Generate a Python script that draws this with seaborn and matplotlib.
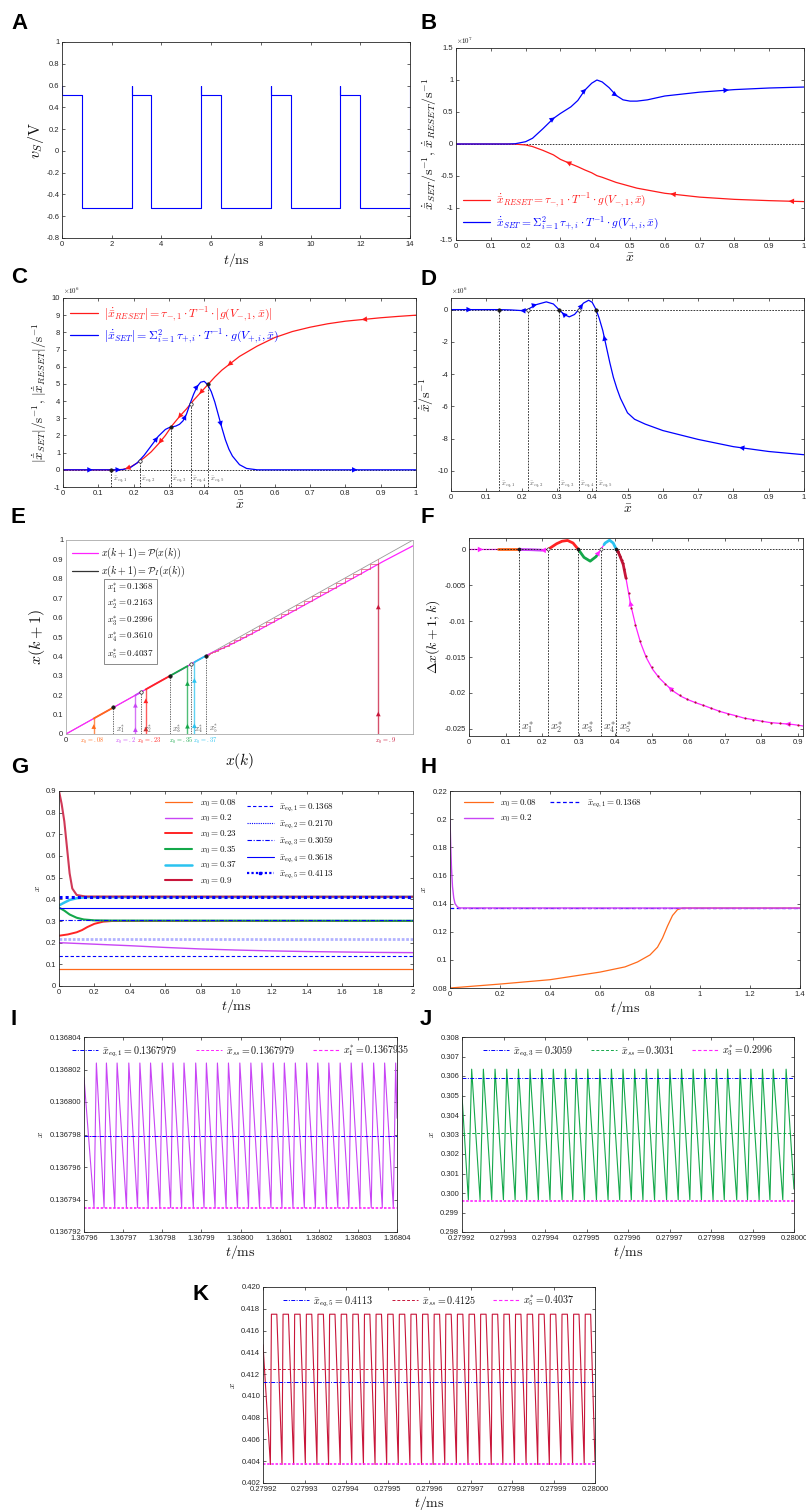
import numpy as np
import matplotlib
matplotlib.use('Agg')
import matplotlib.pyplot as plt
import seaborn as sns
from matplotlib.lines import Line2D
from matplotlib.ticker import FuncFormatter

# ---------------- DATA ----------------
# A: square-wave source voltage
a_rise = [0.0, 2.8, 5.6, 8.4, 11.2, 14.0]
a_fall = [0.8, 3.6, 6.4, 9.2, 12.0]
a_high, a_low, a_spike = 0.51, -0.52, 0.60

# B: SET / RESET rates (x1e7)
b_x = [0, 0.1, 0.15, 0.17, 0.2, 0.22, 0.25, 0.28, 0.3, 0.33, 0.35, 0.37, 0.39, 0.405, 0.42, 0.44,
       0.46, 0.48, 0.5, 0.52, 0.55, 0.6, 0.7, 0.8, 0.9, 1.0]
b_set = [0, 0, 0, 0.004, 0.036, 0.09, 0.24, 0.40, 0.477, 0.58, 0.68, 0.84, 0.95, 1.0, 0.97, 0.88,
         0.76, 0.69, 0.67, 0.67, 0.69, 0.75, 0.81, 0.85, 0.875, 0.89]
b_reset = [0, 0, 0, -0.002, -0.015, -0.04, -0.1, -0.17, -0.24, -0.31, -0.355, -0.405, -0.45,
           -0.495, -0.52, -0.56, -0.6, -0.63, -0.66, -0.69, -0.72, -0.77, -0.83, -0.865, -0.885, -0.9]

# C: absolute rates (x1e6)
c_red_x = [0, 0.1, 0.15, 0.17, 0.19, 0.21, 0.23, 0.25, 0.27, 0.29, 0.31, 0.33, 0.35, 0.37, 0.39,
           0.41, 0.43, 0.45, 0.5, 0.55, 0.6, 0.65, 0.7, 0.75, 0.8, 0.85, 0.9, 0.95, 1.0]
c_red = [0, 0, 0, 0.02, 0.15, 0.4, 0.7, 1.05, 1.5, 2.0, 2.6, 3.1, 3.55, 4.05, 4.5,
         4.95, 5.4, 5.8, 6.6, 7.2, 7.7, 8.05, 8.3, 8.5, 8.65, 8.75, 8.85, 8.93, 9.0]
c_blue_x = [0, 0.1, 0.15, 0.17, 0.19, 0.21, 0.23, 0.25, 0.27, 0.29, 0.30, 0.31, 0.32, 0.33, 0.34,
            0.35, 0.36, 0.37, 0.38, 0.39, 0.40, 0.41, 0.42, 0.43, 0.44, 0.45, 0.46, 0.47, 0.48,
            0.50, 0.52, 0.55, 0.6, 1.0]
c_blue = [0, 0, 0, 0.02, 0.12, 0.4, 0.85, 1.4, 1.95, 2.35, 2.45, 2.5, 2.55, 2.65, 2.85,
          3.25, 3.85, 4.4, 4.85, 5.1, 5.15, 4.95, 4.55, 3.95, 3.2, 2.45, 1.75, 1.2, 0.8,
          0.3, 0.08, 0.0, 0.0, 0.0]

# equilibria
x_eq = [0.1368, 0.2170, 0.3059, 0.3618, 0.4113]
x_eq_stable = [True, False, True, False, True]

# D: net rate (x1e6)
d_x = [0, 0.1, 0.1368, 0.17, 0.2, 0.217, 0.24, 0.27, 0.29, 0.306, 0.32, 0.335, 0.35, 0.362, 0.375,
       0.39, 0.40, 0.411, 0.42, 0.43, 0.44, 0.45, 0.46, 0.47, 0.48, 0.5, 0.52, 0.55, 0.6, 0.7,
       0.8, 0.9, 1.0]
d_y = [0, 0, 0, -0.02, -0.06, 0, 0.3, 0.48, 0.35, 0, -0.3, -0.45, -0.3, 0, 0.4,
       0.58, 0.45, 0, -0.55, -1.3, -2.3, -3.3, -4.2, -4.9, -5.5, -6.4, -6.8, -7.1, -7.5, -8.05,
       -8.5, -8.8, -9.0]

# F: increment map
f_x = [0, 0.1, 0.1368, 0.17, 0.2, 0.2163, 0.24, 0.255, 0.27, 0.285, 0.2996, 0.315, 0.332, 0.348,
       0.361, 0.373, 0.385, 0.395, 0.4037, 0.409, 0.415, 0.4225, 0.43, 0.4425, 0.457, 0.47,
       0.486, 0.503, 0.521, 0.541, 0.561, 0.582, 0.603, 0.623, 0.646, 0.667, 0.689, 0.71,
       0.733, 0.753, 0.776, 0.798, 0.821, 0.842, 0.865, 0.888, 0.915, 1.0]
f_y = [0, 0, 0, -0.00003, -0.0001, 0, 0.0008, 0.00115, 0.00126, 0.0009, 0, -0.0011, -0.00163,
       -0.001, 0, 0.0009, 0.0013, 0.0009, 0, -0.0004, -0.0011, -0.0021, -0.0040, -0.0076,
       -0.0107, -0.0130, -0.0151, -0.0167, -0.0179, -0.0189, -0.0198, -0.0205, -0.0210,
       -0.0214, -0.0218, -0.0222, -0.0226, -0.0229, -0.0232, -0.0235, -0.0237, -0.0239,
       -0.0241, -0.0242, -0.0243, -0.0244, -0.0246, -0.0300]
x_star = [0.1368, 0.2163, 0.2996, 0.3610, 0.4037]
x_star_txt = ['0.1368', '0.2163', '0.2996', '0.3610', '0.4037']
iter_x = [0.9, 0.876, 0.851, 0.827, 0.803, 0.779, 0.755, 0.732, 0.709, 0.686, 0.663, 0.641,
          0.619, 0.598, 0.577, 0.557, 0.537, 0.518, 0.5, 0.484, 0.469, 0.456, 0.445, 0.437,
          0.43, 0.425, 0.421, 0.418, 0.415, 0.413, 0.411, 0.409, 0.408, 0.407, 0.406, 0.405]

# initial conditions and colours
x0_vals = [0.08, 0.2, 0.23, 0.35, 0.37, 0.9]
x0_short = ['.08', '.2', '.23', '.35', '.37', '.9']
x0_long = ['0.08', '0.2', '0.23', '0.35', '0.37', '0.9']
x0_cols = ['#ff6a1a', '#c845f5', '#ff2424', '#14a84a', '#2ac3f0', '#c8163a']
x0_seg_end = [0.1368, 0.2163, 0.2996, 0.2996, 0.4037, 0.4037]

# G: trajectories
g_t = [[0, 2.0],
       [0, 0.2, 0.4, 0.6, 0.8, 1.0, 1.2, 1.4, 1.6, 1.8, 2.0],
       [0, 0.05, 0.1, 0.13, 0.16, 0.2, 0.25, 0.3, 2.0],
       [0, 0.03, 0.06, 0.1, 0.14, 0.2, 0.3, 2.0],
       [0, 0.03, 0.06, 0.1, 0.15, 2.0],
       [0, 0.015, 0.03, 0.045, 0.06, 0.075, 0.1, 0.15, 2.0]]
g_x = [[0.08, 0.08],
       [0.2, 0.193, 0.186, 0.178, 0.171, 0.166, 0.162, 0.159, 0.157, 0.155, 0.154],
       [0.232, 0.238, 0.248, 0.258, 0.272, 0.287, 0.297, 0.3, 0.3],
       [0.362, 0.348, 0.33, 0.315, 0.307, 0.303, 0.302, 0.301],
       [0.372, 0.385, 0.397, 0.405, 0.41, 0.411],
       [0.9, 0.84, 0.76, 0.64, 0.52, 0.45, 0.42, 0.413, 0.412]]
g_eq_txt = ['0.1368', '0.2170', '0.3059', '0.3618', '0.4113']
g_xticklabels = ['0', '0.2', '0.4', '0.6', '0.8', '1.0', '1.2', '1.4', '1.6', '1.8', '2']

# H: zoomed trajectories
h_t_orange = [0, 0.2, 0.4, 0.6, 0.7, 0.75, 0.8, 0.83, 0.85, 0.87, 0.89, 0.91, 0.93, 1.4]
h_x_orange = [0.08, 0.0828, 0.0859, 0.0913, 0.095, 0.0985, 0.1035, 0.109, 0.1155, 0.124,
              0.1315, 0.1357, 0.1368, 0.1368]
h_t_violet = [0, 0.003, 0.006, 0.01, 0.015, 0.02, 0.03, 0.04, 1.4]
h_x_violet = [0.2, 0.18, 0.165, 0.152, 0.144, 0.14, 0.1375, 0.1369, 0.1368]

# I, J, K: steady-state ripple (trough times as offsets in 1e-6 ms)
i_t0 = 1.36796
i_troughs = [2.56, 5.13, 7.86, 10.85, 13.68, 16.41, 19.40, 22.14, 24.96, 27.95, 30.68, 33.50,
             36.32, 39.23, 42.05, 44.87, 47.78, 50.60, 53.42, 56.32, 59.15, 61.97, 64.87, 67.69,
             70.51, 73.42, 76.24, 79.06]
i_lo, i_hi = 0.1367935, 0.1368024
i_eq, i_ss, i_star = 0.1367979, 0.1367979, 0.1367935

j_t0 = 0.27992
j_troughs = [1.53, 4.35, 7.16, 9.98, 12.8, 15.6, 18.4, 21.2, 24.1, 26.7, 29.5, 32.4, 35.2, 38.0,
             40.8, 43.6, 46.4, 49.3, 52.1, 54.9, 57.7, 60.5, 63.2, 66.2, 68.8, 71.6, 74.2, 77.3]
j_lo, j_hi = 0.29965, 0.30635
j_eq, j_ss, j_star = 0.3059, 0.3031, 0.2996

k_t0 = 0.27992
k_troughs = [1.78, 4.58, 7.38, 10.2, 13.0, 15.8, 18.6, 21.4, 24.2, 27.0, 29.8, 32.6, 35.4, 38.2,
             41.0, 43.8, 46.6, 49.4, 52.2, 55.0, 57.8, 60.6, 63.4, 66.2, 69.0, 71.8, 74.6, 77.4]
k_lo, k_hi = 0.4037, 0.4175
k_eq, k_ss, k_star = 0.4113, 0.4125, 0.4037

# ---------------- STYLE ----------------
sns.set_theme(style='ticks')
plt.rcParams.update({
    'font.family': ['Liberation Sans', 'DejaVu Sans'],
    'mathtext.fontset': 'cm',
    'axes.unicode_minus': False,
    'xtick.direction': 'in', 'ytick.direction': 'in',
    'xtick.top': True, 'ytick.right': True,
    'axes.linewidth': 0.6,
    'xtick.major.size': 2.5, 'ytick.major.size': 2.5,
    'xtick.major.width': 0.5, 'ytick.major.width': 0.5,
    'xtick.labelsize': 5.5, 'ytick.labelsize': 5.5,
    'xtick.major.pad': 2, 'ytick.major.pad': 2,
    'axes.edgecolor': '#262626', 'xtick.color': '#262626', 'ytick.color': '#262626',
    'axes.labelcolor': '#111111', 'text.color': '#111111',
    'axes.facecolor': 'white', 'figure.facecolor': 'white',
    'legend.fontsize': 6,
})

W, H = 806, 1511
fig = plt.figure(figsize=(W / 100, H / 100), dpi=100)
BLUE = '#0000ff'
RED = '#ff1a1a'
MAG = '#ff22ff'


def add_ax(l, r, t, b):
    return fig.add_axes([l / W, 1 - b / H, (r - l) / W, (b - t) / H])


def fmt_g(ax, axis='both'):
    f = FuncFormatter(lambda v, p: '%g' % (round(v, 9) + 0.0))
    if axis in ('x', 'both'):
        ax.xaxis.set_major_formatter(f)
    if axis in ('y', 'both'):
        ax.yaxis.set_major_formatter(f)


def line(ax, x, y, **kw):
    sns.lineplot(x=np.asarray(x, float), y=np.asarray(y, float), ax=ax, sort=False,
                 estimator=None, legend=False, **kw)


def arrows(ax, cx, cy, spec, color, ms=7, frac=0.004):
    cx = np.asarray(cx, float)
    cy = np.asarray(cy, float)
    span = cx.max() - cx.min()
    for a, sgn in spec:
        d = sgn * frac * span
        y0 = np.interp(a, cx, cy)
        y1 = np.interp(a + d, cx, cy)
        ax.annotate('', xy=(a + d, y1), xytext=(a, y0),
                    arrowprops=dict(arrowstyle='-|>,head_length=0.55,head_width=0.28',
                                    color=color, lw=0.01, shrinkA=0, shrinkB=0,
                                    mutation_scale=ms))


def letter(x, y, s):
    fig.text(x / W, 1 - y / H, s, fontsize=16, fontweight='bold', va='top', ha='left',
             family='Liberation Sans', color='black')


# ---------------- A ----------------
ax = add_ax(62, 410, 42, 238)
ta, va = [0.0], [a_spike]
for i, r in enumerate(a_rise):
    if i > 0:
        ta += [r, r]
        va += [a_low, a_spike]
    if i < len(a_fall):
        ta += [r, a_fall[i], a_fall[i]]
        va += [a_high, a_high, a_low]
line(ax, ta, va, color=BLUE, lw=0.8)
ax.set_xlim(0, 14)
ax.set_ylim(-0.8, 1)
ax.set_xticks(np.arange(0, 15, 2))
ax.set_yticks(np.arange(-0.8, 1.01, 0.2))
fmt_g(ax)
ax.set_xlabel(r'$t/\mathrm{ns}$', fontsize=10, labelpad=2)
ax.set_ylabel(r'$v_S/\mathrm{V}$', fontsize=11.5, labelpad=0)
letter(11, 13, 'A')

# ---------------- B ----------------
ax = add_ax(456, 804, 48, 240)
line(ax, [0, 1], [0, 0], color='k', lw=0.6, linestyle=(0, (2, 1.5)))
line(ax, b_x, b_reset, color=RED, lw=0.9)
line(ax, b_x, b_set, color=BLUE, lw=0.9)
arrows(ax, b_x, b_set, [(0.28, 1), (0.37, 1), (0.46, 1), (0.78, 1)], BLUE)
arrows(ax, b_x, b_reset, [(0.32, -1), (0.62, -1), (0.96, -1)], RED)
ax.set_xlim(0, 1)
ax.set_ylim(-1.5, 1.5)
ax.set_xticks(np.arange(0, 1.01, 0.1))
ax.set_yticks(np.arange(-1.5, 1.51, 0.5))
fmt_g(ax)
ax.text(0.0, 1.01, r'$\times10^{7}$', transform=ax.transAxes, fontsize=5, va='bottom')
ax.set_xlabel(r'$\bar{x}$', fontsize=10, labelpad=1)
ax.set_ylabel(r'$\dot{\bar{x}}_{SET}/\mathrm{s}^{-1},\,\dot{\bar{x}}_{RESET}/\mathrm{s}^{-1}$',
              fontsize=10, labelpad=1)
hb = [Line2D([], [], color=RED, lw=0.9), Line2D([], [], color=BLUE, lw=0.9)]
lb = [r'$\dot{\bar{x}}_{RESET}=\tau_{-,1}\cdot T^{-1}\cdot g(V_{-,1},\bar{x})$',
      r'$\dot{\bar{x}}_{SET}=\Sigma_{i=1}^{2}\,\tau_{+,i}\cdot T^{-1}\cdot g(V_{+,i},\bar{x})$']
lg = ax.legend(hb, lb, loc='lower left', frameon=False, fontsize=8.3, handlelength=2.3,
               borderaxespad=0.25, labelspacing=0.35, handletextpad=0.5)
for txt, c in zip(lg.get_texts(), [RED, BLUE]):
    txt.set_color(c)
letter(420, 13, 'B')

# ---------------- C ----------------
ax = add_ax(63, 416, 298, 487)
line(ax, [0, 1], [0, 0], color='k', lw=0.6, linestyle=(0, (2, 1.5)))
line(ax, c_red_x, c_red, color=RED, lw=0.9)
line(ax, c_blue_x, c_blue, color=BLUE, lw=0.9)
arrows(ax, c_blue_x, c_blue, [(0.08, 1), (0.16, 1), (0.265, 1), (0.345, 1), (0.38, 1),
                              (0.445, 1), (0.83, 1)], BLUE)
arrows(ax, c_red_x, c_red, [(0.18, -1), (0.275, -1), (0.33, -1), (0.39, -1), (0.47, -1),
                            (0.85, -1)], RED)
for xe, st, k in zip(x_eq, x_eq_stable, range(5)):
    ye = np.interp(xe, c_red_x, c_red)
    line(ax, [xe, xe], [-1, ye], color='k', lw=0.6, linestyle=(0, (2, 1.5)))
    ax.scatter([xe], [ye], s=6, color='k' if st else 'white', edgecolor='k', lw=0.5, zorder=5)
    ax.text(xe + 0.004, -0.55, r'$\bar{x}_{eq,%d}$' % (k + 1), fontsize=4.8, color='#555555',
            va='center')
ax.set_xlim(0, 1)
ax.set_ylim(-1, 10)
ax.set_xticks(np.arange(0, 1.01, 0.1))
ax.set_yticks(np.arange(-1, 10.1, 1))
fmt_g(ax)
ax.text(0.0, 1.01, r'$\times10^{6}$', transform=ax.transAxes, fontsize=5, va='bottom')
ax.set_xlabel(r'$\bar{x}$', fontsize=10, labelpad=1)
ax.set_ylabel(r'$|\dot{\bar{x}}_{SET}|/\mathrm{s}^{-1},\,|\dot{\bar{x}}_{RESET}|/\mathrm{s}^{-1}$',
              fontsize=9.5, labelpad=2)
lc = [r'$|\dot{\bar{x}}_{RESET}|=\tau_{-,1}\cdot T^{-1}\cdot |g(V_{-,1},\bar{x})|$',
      r'$|\dot{\bar{x}}_{SET}|=\Sigma_{i=1}^{2}\,\tau_{+,i}\cdot T^{-1}\cdot g(V_{+,i},\bar{x})$']
lg = ax.legend(hb, lc, loc='upper left', frameon=False, fontsize=8.6, handlelength=2.3,
               borderaxespad=0.2, labelspacing=0.3, handletextpad=0.5)
for txt, c in zip(lg.get_texts(), [RED, BLUE]):
    txt.set_color(c)
letter(11, 267, 'C')

# ---------------- D ----------------
ax = add_ax(451, 804, 298, 491)
line(ax, [0, 1], [0, 0], color='k', lw=0.6, linestyle=(0, (2, 1.5)))
line(ax, d_x, d_y, color=BLUE, lw=0.9)
arrows(ax, d_x, d_y, [(0.055, 1), (0.2, -1), (0.24, 1), (0.318, -1), (0.37, 1), (0.437, -1),
                      (0.82, -1)], BLUE)
for xe, st, k in zip(x_eq, x_eq_stable, range(5)):
    line(ax, [xe, xe], [-11.25, 0], color='k', lw=0.6, linestyle=(0, (2, 1.5)))
    ax.scatter([xe], [0], s=6, color='k' if st else 'white', edgecolor='k', lw=0.5, zorder=5)
    ax.text(xe + 0.004, -10.85, r'$\bar{x}_{eq,%d}$' % (k + 1), fontsize=4.8, color='#555555',
            va='center')
ax.set_xlim(0, 1)
ax.set_ylim(-11.25, 0.72)
ax.set_xticks(np.arange(0, 1.01, 0.1))
ax.set_yticks(np.arange(-10, 0.1, 2))
fmt_g(ax)
ax.text(0.0, 1.01, r'$\times10^{6}$', transform=ax.transAxes, fontsize=5, va='bottom')
ax.set_xlabel(r'$\bar{x}$', fontsize=10, labelpad=1)
ax.set_ylabel(r'$\dot{\bar{x}}/\mathrm{s}^{-1}$', fontsize=10, labelpad=1)
letter(420, 269, 'D')

# ---------------- E ----------------
ax = add_ax(66, 413, 540, 734)
fxa = np.asarray(f_x, float)
e_p = fxa + np.asarray(f_y, float)
line(ax, [0, 1], [0, 1], color='#999999', lw=0.6)
line(ax, fxa, e_p, color=MAG, lw=0.9)
# cobweb
cw_x, cw_y = [], []
for a, b in zip(iter_x[:-1], iter_x[1:]):
    cw_x += [a, a, b]
    cw_y += [a, b, b]
line(ax, cw_x, cw_y, color='#e0506e', lw=0.5)
for x0, col, xe in zip(x0_vals[:5], x0_cols[:5], x0_seg_end[:5]):
    lo_, hi_ = min(x0, xe), max(x0, xe)
    line(ax, [lo_, hi_], [lo_, hi_], color=col, lw=1.3)
for x0, col in zip(x0_vals, x0_cols):
    top = np.interp(x0, fxa, e_p)
    line(ax, [x0, x0], [0, top], color=col, lw=1.0, alpha=0.75)
    for fy in (0.12, 0.75) if x0 > 0.1 else (0.5,):
        yy = fy * top
        ax.annotate('', xy=(x0, yy + 0.01), xytext=(x0, yy),
                    arrowprops=dict(arrowstyle='-|>,head_length=0.55,head_width=0.28',
                                    color=col, lw=0.01, shrinkA=0, shrinkB=0,
                                    mutation_scale=6))
for xs, k in zip(x_star, range(5)):
    line(ax, [xs, xs], [0, xs], color='#333333', lw=0.5, linestyle=(0, (2, 1.5)))
    ax.scatter([xs], [xs], s=6, color='k' if k % 2 == 0 else 'white', edgecolor='k', lw=0.5,
               zorder=5)
    ax.text(xs + 0.007, 0.025, r'$x_{%d}^{*}$' % (k + 1), fontsize=5.5, color='#555555',
            va='center')
lab_dx = [-0.005, -0.03, 0.01, -0.02, 0.03, 0.02]
for x0, s, col, dx in zip(x0_vals, x0_short, x0_cols, lab_dx):
    ax.text(x0 + dx, -0.035, r'$x_0 = %s$' % s, fontsize=4.5, color=col, ha='center', va='center',
            transform=ax.get_xaxis_transform())
ax.text(0.118, 0.785, '\n'.join(r'$x_{%d}^{*} = %s$' % (k + 1, v) for k, v in enumerate(x_star_txt)),
        fontsize=6.5, va='top', ha='left', linespacing=1.35,
        bbox=dict(boxstyle='square,pad=0.35', fc='white', ec='#777777', lw=0.6))
he = [Line2D([], [], color=MAG, lw=0.9), Line2D([], [], color='#333333', lw=0.9)]
le = [r'$x(k+1)=\mathcal{P}(x(k))$', r'$x(k+1)=\mathcal{P}_I(x(k))$']
ax.legend(he, le, loc='upper left', frameon=False, fontsize=7.2, handlelength=2.6,
          borderaxespad=0.2, labelspacing=0.25, handletextpad=0.3)
ax.set_xlim(0, 1)
ax.set_ylim(0, 1)
ax.set_xticks([0])
ax.set_yticks(np.arange(0, 1.01, 0.1))
fmt_g(ax)
ax.tick_params(top=False, right=False, length=0)
for s in ax.spines.values():
    s.set_color('#aaaaaa')
ax.set_xlabel(r'$x(k)$', fontsize=11, labelpad=5)
ax.set_ylabel(r'$x(k+1)$', fontsize=11.5, labelpad=4)
letter(11, 507, 'E')

# ---------------- F ----------------
ax = add_ax(469, 803, 538, 736)
line(ax, f_x, f_y, color=MAG, lw=0.9)
fseg = [(0.08, 0.1368), (0.1368, 0.2), (0.2163, 0.2996), (0.2996, 0.35), (0.37, 0.4037),
        (0.4037, 0.43)]
for (s0, s1), col in zip(fseg, x0_cols):
    m = (fxa >= s0) & (fxa <= s1)
    xs_ = np.concatenate([[s0], fxa[m], [s1]])
    ys_ = np.interp(xs_, f_x, f_y)
    line(ax, xs_, ys_, color=col, lw=2.0)
ax.scatter(iter_x, np.interp(iter_x, f_x, f_y), s=2.5, color='#b0102e', zorder=5, lw=0)
line(ax, [0, 0.915], [0, 0], color='k', lw=0.6, linestyle=(0, (2, 1.5)))
arrows(ax, f_x, f_y, [(0.035, 1), (0.2, -1), (0.355, 1), (0.445, -1), (0.55, -1), (0.87, -1)],
       MAG)
for xs, k in zip(x_star, range(5)):
    line(ax, [xs, xs], [-0.026, 0], color='k', lw=0.6, linestyle=(0, (2, 1.5)))
    ax.scatter([xs], [0], s=5, color='k' if k % 2 == 0 else 'white', edgecolor='k', lw=0.4,
               zorder=6)
    ax.text(xs + 0.006, -0.0248, r'$x_{%d}^{*}$' % (k + 1), fontsize=8.5, color='#444444',
            va='center')
ax.set_xlim(0, 0.915)
ax.set_ylim(-0.026, 0.0016)
ax.set_xticks(np.arange(0, 0.91, 0.1))
ax.set_yticks([0, -0.005, -0.01, -0.015, -0.02, -0.025])
fmt_g(ax)
ax.set_ylabel(r'$\Delta x(k+1;k)$', fontsize=10, labelpad=2)
letter(420, 507, 'F')

# ---------------- G ----------------
ax = add_ax(59, 413, 791, 986)
eq_styles = [dict(linestyle=(0, (3, 2)), lw=0.8),
             dict(linestyle=(0, (1, 0.6)), lw=2.0, alpha=0.3),
             dict(linestyle=(0, (4, 1.5, 1, 1.5)), lw=0.8), dict(linestyle='-', lw=0.8),
             dict(linestyle=(0, (1, 1)), lw=2.2)]
g_lw = [0.9, 1.0, 1.4, 1.5, 1.8, 1.5]
g_alpha = [1, 1, 1, 1, 1, 0.85]
for tt, xx, col, lw_, al in zip(g_t, g_x, x0_cols, g_lw, g_alpha):
    line(ax, tt, xx, color=col, lw=lw_, alpha=al)
for xe, st in zip(x_eq, eq_styles):
    line(ax, [0, 2], [xe, xe], color=BLUE, **st)
ax.set_xlim(0, 2)
ax.set_ylim(0, 0.9)
ax.set_xticks(np.arange(0, 2.01, 0.2))
ax.set_xticklabels(g_xticklabels)
ax.set_yticks(np.arange(0, 0.91, 0.1))
fmt_g(ax, 'y')
ax.set_xlabel(r'$t/\mathrm{ms}$', fontsize=10, labelpad=1)
ax.set_ylabel(r'$x$', fontsize=7, labelpad=3)
h1 = [Line2D([], [], color=c, lw=w) for c, w in zip(x0_cols, g_lw)]
l1 = [r'$x_0 = %s$' % s for s in x0_long]
lg1 = ax.legend(h1, l1, loc='upper left', bbox_to_anchor=(0.29, 0.985), frameon=False,
                fontsize=6.5, handlelength=3.0, labelspacing=0.42, borderaxespad=0,
                handletextpad=0.9)
ax.add_artist(lg1)
h2 = [Line2D([], [], color=BLUE, lw=0.8, linestyle=(0, (3, 2))),
      Line2D([], [], color=BLUE, lw=0.8, linestyle=(0, (1, 1))),
      Line2D([], [], color=BLUE, lw=0.8, linestyle=(0, (4, 1.5, 1, 1.5))),
      Line2D([], [], color=BLUE, lw=0.8),
      Line2D([], [], color=BLUE, lw=1.6, linestyle=(0, (1, 1)), marker='s', markersize=1.6)]
l2 = [r'$\bar{x}_{eq,%d} = %s$' % (k + 1, v) for k, v in enumerate(g_eq_txt)]
ax.legend(h2, l2, loc='upper left', bbox_to_anchor=(0.52, 0.965), frameon=False, fontsize=6.5,
          handlelength=3.0, labelspacing=0.42, borderaxespad=0, handletextpad=0.6)
letter(11, 757, 'G')

# ---------------- H ----------------
ax = add_ax(450, 800, 791, 988)
line(ax, [0, 1.4], [x_eq[0], x_eq[0]], color=BLUE, lw=0.9, linestyle=(0, (3, 2)))
line(ax, h_t_orange, h_x_orange, color=x0_cols[0], lw=0.9)
line(ax, h_t_violet, h_x_violet, color=x0_cols[1], lw=1.0)
line(ax, [0.03, 1.4], [x_eq[0], x_eq[0]], color=x0_cols[1], lw=0.9, linestyle=(0, (2, 2)))
ax.set_xlim(0, 1.4)
ax.set_ylim(0.08, 0.22)
ax.set_xticks(np.arange(0, 1.41, 0.2))
ax.set_yticks(np.arange(0.08, 0.221, 0.02))
fmt_g(ax)
ax.set_xlabel(r'$t/\mathrm{ms}$', fontsize=10, labelpad=1)
ax.set_ylabel(r'$x$', fontsize=7, labelpad=3)
hh = [Line2D([], [], color=x0_cols[0], lw=0.9), Line2D([], [], color=x0_cols[1], lw=1.0),
      Line2D([], [], color=BLUE, lw=0.9, linestyle=(0, (3, 2)))]
lh = [r'$x_0 = 0.08$', r'$x_0 = 0.2$', r'$\bar{x}_{eq,1} = 0.1368$']
ax.legend(hh, lh, loc='upper left', ncol=2, bbox_to_anchor=(0.03, 0.985), frameon=False,
          fontsize=6.5, handlelength=3.2, labelspacing=0.4, borderaxespad=0, columnspacing=1.5)
letter(420, 757, 'H')


# ---------------- I, J, K ----------------
def saw(t0, troughs, rise, flat, lo, hi, y_start, y_end):
    tt, yy = [0.0], [y_start]
    for o in troughs:
        tt += [o, o + rise]
        yy += [lo, hi]
        if flat > 0:
            tt.append(o + rise + flat)
            yy.append(hi)
    tt.append(80.0)
    yy.append(y_end)
    return t0 + np.asarray(tt) * 1e-6, np.asarray(yy)


def ripple_panel(ax, t0, troughs, rise, flat, lo, hi, ys, ye, col, eq, ss, ssc, star, labels,
                 yticks, yfmt):
    tt, yy = saw(t0, troughs, rise, flat, lo, hi, ys, ye)
    line(ax, tt, yy, color=col, lw=0.8)
    line(ax, [t0, t0 + 8e-5], [ss, ss], color=ssc, lw=0.7, linestyle=(0, (3, 2)))
    line(ax, [t0, t0 + 8e-5], [eq, eq], color=BLUE, lw=0.7, linestyle=(0, (4, 1.5, 1, 1.5)))
    line(ax, [t0, t0 + 8e-5], [star, star], color=MAG, lw=1.2, linestyle=(0, (1.5, 1)))
    ax.set_xlim(t0, t0 + 8e-5)
    ax.set_ylim(yticks[0], yticks[-1])
    ax.set_xticks(t0 + np.arange(9) * 1e-5)
    ax.set_yticks(yticks)
    ax.xaxis.set_major_formatter(FuncFormatter(lambda v, p: '%.5f' % v))
    ax.yaxis.set_major_formatter(FuncFormatter(lambda v, p: yfmt % v))
    ax.set_xlabel(r'$t/\mathrm{ms}$', fontsize=10, labelpad=1)
    ax.set_ylabel(r'$x$', fontsize=7, labelpad=3)
    hs = [Line2D([], [], color=BLUE, lw=0.7, linestyle=(0, (4, 1.5, 1, 1.5))),
          Line2D([], [], color=ssc, lw=0.7, linestyle=(0, (3, 2))),
          Line2D([], [], color=MAG, lw=0.8, linestyle=(0, (3, 2)))]
    ax.legend(hs, labels, loc='upper center', ncol=3, bbox_to_anchor=(0.5, 0.985), frameon=False,
              fontsize=7.2, handlelength=2.6, columnspacing=1.8, borderaxespad=0,
              handletextpad=0.4)


ax = add_ax(84, 397, 1037, 1232)
ripple_panel(ax, i_t0, i_troughs, 0.6, 0, i_lo, i_hi, 0.1368015, 0.1367990, x0_cols[1],
             i_eq, i_ss, MAG, i_star,
             [r'$\bar{x}_{eq,1} = 0.1367979$', r'$\bar{x}_{ss} = 0.1367979$',
              r'$x_1^{*} = 0.1367935$'],
             0.136792 + np.arange(7) * 2e-6, '%.6f')
letter(11, 1009, 'I')

ax = add_ax(462, 794, 1037, 1232)
ripple_panel(ax, j_t0, j_troughs, 0.8, 0, j_lo, j_hi, 0.3050, 0.3002, x0_cols[3],
             j_eq, j_ss, x0_cols[3], j_star,
             [r'$\bar{x}_{eq,3} = 0.3059$', r'$\bar{x}_{ss} = 0.3031$', r'$x_3^{*} = 0.2996$'],
             0.298 + np.arange(11) * 1e-3, '%.3f')
letter(420, 1009, 'J')

ax = add_ax(263, 595, 1287, 1483)
ripple_panel(ax, k_t0, k_troughs, 0.25, 1.3, k_lo, k_hi, 0.4147, 0.4040, x0_cols[5],
             k_eq, k_ss, x0_cols[5], k_star,
             [r'$\bar{x}_{eq,5} = 0.4113$', r'$\bar{x}_{ss} = 0.4125$', r'$x_5^{*} = 0.4037$'],
             0.402 + np.arange(10) * 2e-3, '%.3f')
letter(193, 1284, 'K')

fig.savefig('out.png', dpi=100)
